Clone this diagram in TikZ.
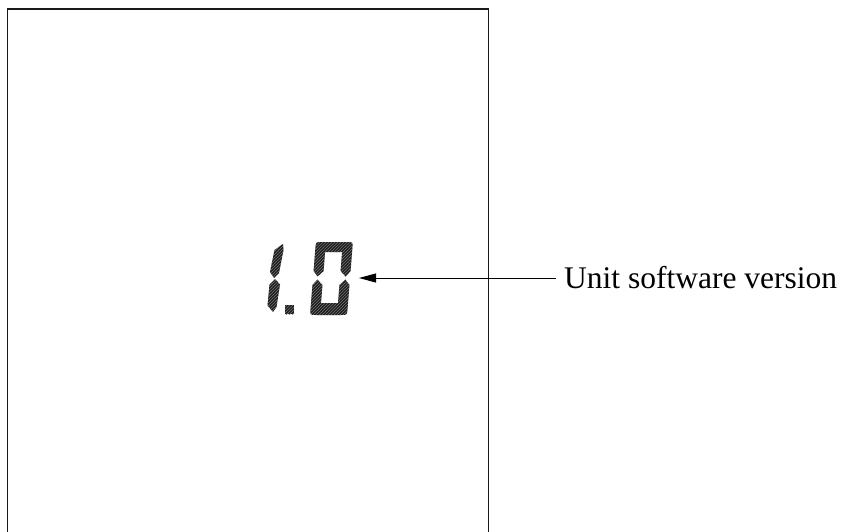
\documentclass[tikz,border=0pt]{standalone}
\usepackage{fontspec}
\setmainfont{Liberation Serif}
\usetikzlibrary{arrows.meta,patterns}

\begin{document}
\begin{tikzpicture}[x=1pt,y=-1pt,
  frame/.style={line width=1.8pt,black!90},
  seg/.style={fill=black!88,postaction={pattern=north east lines,pattern color=black!55}},
  pointer/.style={line width=1pt,-{Triangle[length=17pt,width=9pt]}}]
  \useasboundingbox (0,0) rectangle (846,532);
  % display window, open at the bottom
  \draw[frame] (7.5,532) -- (7.5,9) -- (488.5,9) -- (488.5,532);
  % digit 1
  \fill[seg] (283,244) -- (274.5,250) -- (270,272) -- (274,278) -- (279,273) -- (283.5,250) -- cycle;
  \fill[seg] (275,279) -- (280,284.5) -- (276.5,307) -- (273,312) -- (267.5,305.5) -- (269.5,284.5) -- cycle;
  % decimal point
  \fill[seg] (285,305) rectangle (294,314);
  % digit 0
  \begin{scope}[shift={(331.5,278)},xslant=0.08]
    \fill[seg] (-14,-1.5) -- (-18.5,-7) -- (-18.5,-30) .. controls (-18.5,-36) .. (-12.5,-36)
      -- (12.5,-36) .. controls (18.5,-36) .. (18.5,-30) -- (18.5,-7) -- (14,-1.5)
      -- (8.5,-7) -- (8.5,-26) -- (-8.5,-26) -- (-8.5,-7) -- cycle;
    \fill[seg] (-14,1.5) -- (-18.5,7) -- (-18.5,31) .. controls (-18.5,37) .. (-12.5,37)
      -- (12.5,37) .. controls (18.5,37) .. (18.5,31) -- (18.5,7) -- (14,1.5)
      -- (8.5,7) -- (8.5,25) -- (-8.5,25) -- (-8.5,7) -- cycle;
  \end{scope}
  \coordinate (tip) at (359,278);
  \node[anchor=west,inner sep=0pt,font=\fontsize{31.5}{36}\selectfont] (version) at (564,278) {Unit software version};
  \draw[pointer] ([xshift=-8pt]version.west) -- (tip);
\end{tikzpicture}
\end{document}
